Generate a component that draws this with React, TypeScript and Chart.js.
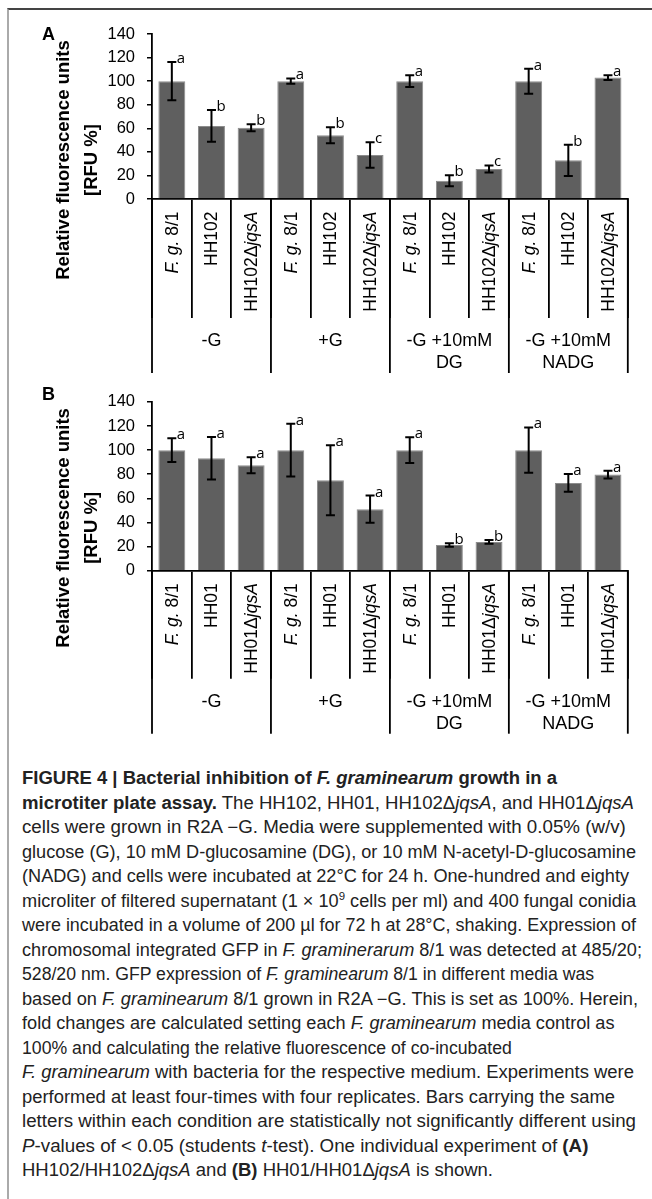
import React, { useEffect, useLayoutEffect, useRef } from 'react';
import { Chart, registerables } from 'chart.js';
Chart.register(...registerables);

// ---------- data ----------
const categoriesA = ['*F. g.* 8/1', 'HH102', 'HH102Δ*jqsA*', '*F. g.* 8/1', 'HH102', 'HH102Δ*jqsA*', '*F. g.* 8/1', 'HH102', 'HH102Δ*jqsA*', '*F. g.* 8/1', 'HH102', 'HH102Δ*jqsA*'];
const categoriesB = ['*F. g.* 8/1', 'HH01', 'HH01Δ*jqsA*', '*F. g.* 8/1', 'HH01', 'HH01Δ*jqsA*', '*F. g.* 8/1', 'HH01', 'HH01Δ*jqsA*', '*F. g.* 8/1', 'HH01', 'HH01Δ*jqsA*'];
const groupLabels = [['-G'], ['+G'], ['-G +10mM', 'DG'], ['-G +10mM', 'NADG']];
const valuesA = [100, 62, 60.5, 100, 54, 37.3, 100, 15.5, 25.5, 100, 32.8, 103];
const errorsA = [16.3, 13.5, 3, 2.3, 6.8, 10.8, 5, 4.7, 3, 10.6, 13.3, 2];
const lettersA = ['a', 'b', 'b', 'a', 'b', 'c', 'a', 'b', 'c', 'a', 'b', 'a'];
const valuesB = [100, 93.3, 87.4, 100, 75, 51, 100, 21.3, 23.9, 100, 72.8, 79.7];
const errorsB = [9.8, 17.6, 6.6, 21.8, 29, 11.3, 10.6, 1.5, 1.6, 18.8, 7.3, 3.3];
const lettersB = ['a', 'a', 'a', 'a', 'a', 'a', 'a', 'b', 'b', 'a', 'a', 'a'];
const yMin = 0;
const yMax = 140;
const yStep = 20;
const yTitle = ['Relative fluorescence units', '[RFU %]'];

const FONT = '"Liberation Sans", Arial, sans-serif';

function parseSegs(label: string) {
  const parts = label.split('*');
  return parts.map((t, i) => ({ t, italic: i % 2 === 1 })).filter(s => s.t.length > 0);
}

function makePlugin(cfg: any) {
  return {
    id: 'panelDecor',
    afterDraw(chart: any) {
      const { ctx, chartArea } = chart;
      const x = chart.scales.x;
      const y = chart.scales.y;
      const meta = chart.getDatasetMeta(0);
      ctx.save();
      // error bars + letters
      meta.data.forEach((bar: any, i: number) => {
        const v = cfg.values[i];
        const e = cfg.errors[i];
        const yt = y.getPixelForValue(v + e);
        const yb = y.getPixelForValue(v - e);
        const cx = bar.x;
        ctx.strokeStyle = '#000';
        ctx.lineWidth = 2;
        ctx.beginPath();
        ctx.moveTo(cx, yt); ctx.lineTo(cx, yb);
        ctx.moveTo(cx - 4.5, yt); ctx.lineTo(cx + 4.5, yt);
        ctx.moveTo(cx - 4.5, yb); ctx.lineTo(cx + 4.5, yb);
        ctx.stroke();
        ctx.fillStyle = '#000';
        ctx.font = '15px "Open Sans", sans-serif';
        ctx.textAlign = 'left';
        ctx.textBaseline = 'alphabetic';
        ctx.fillText(cfg.letters[i], cx + 5, yt + 1);
      });
      // rotated category labels
      const top = chartArea.bottom + 12.5;
      cfg.categories.forEach((lab: string, i: number) => {
        const cx = x.getPixelForValue(i);
        const segs = parseSegs(lab).map(s => {
          ctx.font = (s.italic ? 'italic ' : '') + '17.5px ' + FONT;
          return { ...s, w: ctx.measureText(s.t).width };
        });
        const total = segs.reduce((a, s) => a + s.w, 0);
        ctx.save();
        ctx.translate(cx, top);
        ctx.rotate(-Math.PI / 2);
        ctx.textAlign = 'left';
        ctx.textBaseline = 'middle';
        ctx.fillStyle = '#000';
        let px = -total;
        segs.forEach(s => {
          ctx.font = (s.italic ? 'italic ' : '') + '17.5px ' + FONT;
          ctx.fillText(s.t, px, 1);
          px += s.w;
        });
        ctx.restore();
      });
      // group separators & labels
      const half = (x.getPixelForValue(1) - x.getPixelForValue(0)) / 2;
      ctx.strokeStyle = '#000';
      ctx.lineWidth = 1.8;
      for (let g = 0; g <= groupLabels.length; g++) {
        const bx = g < groupLabels.length ? x.getPixelForValue(g * 3) - half : x.getPixelForValue(g * 3 - 1) + half;
        ctx.beginPath();
        ctx.moveTo(bx, chartArea.bottom);
        ctx.lineTo(bx, chartArea.bottom + cfg.innerLen + 55);
        ctx.stroke();
      }
      ctx.fillStyle = '#000';
      ctx.font = '18px ' + FONT;
      ctx.textAlign = 'center';
      ctx.textBaseline = 'middle';
      groupLabels.forEach((lines, g) => {
        const gx = x.getPixelForValue(g * 3 + 1);
        lines.forEach((ln, k) => {
          ctx.fillText(ln, gx, chartArea.bottom + cfg.innerLen + 23.5 + k * 21.5);
        });
      });
      // y axis title
      ctx.font = 'bold 18.5px ' + FONT;
      const cy = chartArea.top + 126;
      [64, 91.5].forEach((tx, k) => {
        ctx.save();
        ctx.translate(tx, cy);
        ctx.rotate(-Math.PI / 2);
        ctx.textAlign = 'center';
        ctx.textBaseline = 'middle';
        ctx.fillText(yTitle[k], 0, 0);
        ctx.restore();
      });
      // panel letter
      ctx.font = 'bold 18px ' + FONT;
      ctx.textAlign = 'left';
      ctx.textBaseline = 'alphabetic';
      ctx.fillText(cfg.panel, 42, cfg.panelY);
      ctx.restore();
    },
  };
}

function Panel(props: any) {
  const ref = useRef<HTMLCanvasElement>(null);
  useEffect(() => {
    const cfg = props.cfg;
    const chart = new Chart(ref.current as HTMLCanvasElement, {
      type: 'bar',
      data: {
        labels: cfg.categories,
        datasets: [{
          data: cfg.values,
          backgroundColor: '#5f5f5f',
          borderColor: '#8c8c8c',
          borderWidth: 1,
          barPercentage: 0.68,
          categoryPercentage: 1,
        }],
      },
      options: {
        responsive: false,
        animation: false,
        devicePixelRatio: 1,
        layout: { padding: { top: cfg.padTop, right: 24.2, bottom: 0, left: 0 } },
        plugins: { legend: { display: false }, tooltip: { enabled: false }, title: { display: false } },
        scales: {
          x: {
            offset: true,
            ticks: { display: false },
            grid: { offset: true, drawOnChartArea: false, drawTicks: true, tickLength: cfg.innerLen, color: '#000', lineWidth: 1.8 },
            border: { display: true, color: '#000', width: 1.8 },
            afterFit: (s: any) => { s.height = cfg.xHeight; },
          },
          y: {
            min: yMin,
            max: yMax,
            ticks: { stepSize: yStep, color: '#000', padding: 12, font: { family: FONT, size: 16.5 } },
            grid: { drawOnChartArea: false, drawTicks: true, tickLength: 5, color: '#000', lineWidth: 1.5 },
            border: { display: true, color: '#000', width: 1.8 },
            afterFit: (s: any) => { s.width = 152; },
          },
        },
      },
      plugins: [makePlugin(cfg)],
    });
    return () => chart.destroy();
  }, []);
  return (
    <canvas ref={ref} width={652} height={props.h}
      style={{ position: 'absolute', left: 0, top: props.top, width: 652, height: props.h }} />
  );
}

const cfgA = { categories: categoriesA, values: valuesA, errors: errorsA, letters: lettersA, innerLen: 119, padTop: 24, xHeight: 181, panel: 'A', panelY: 30 };
const cfgB = { categories: categoriesB, values: valuesB, errors: errorsB, letters: lettersB, innerLen: 108, padTop: 15, xHeight: 189.3, panel: 'B', panelY: 20 };

const I = (p: any) => <i>{p.children}</i>;
const B = (p: any) => <b>{p.children}</b>;

const captionLines: any[] = [
  <B>FIGURE 4 | Bacterial inhibition of <I>F. graminearum</I> growth in a</B>,
  <><B>microtiter plate assay.</B> The HH102, HH01, HH102Δ<I>jqsA</I>, and HH01Δ<I>jqsA</I></>,
  <>cells were grown in R2A −G. Media were supplemented with 0.05% (w/v)</>,
  <>glucose (G), 10 mM D-glucosamine (DG), or 10 mM N-acetyl-D-glucosamine</>,
  <>(NADG) and cells were incubated at 22°C for 24 h. One-hundred and eighty</>,
  <>microliter of filtered supernatant (1 × 10<sup style={{ fontSize: '11px', lineHeight: 0 }}>9</sup> cells per ml) and 400 fungal conidia</>,
  <>were incubated in a volume of 200 µl for 72 h at 28°C, shaking. Expression of</>,
  <>chromosomal integrated GFP in <I>F. graminerarum</I> 8/1 was detected at 485/20;</>,
  <>528/20 nm. GFP expression of <I>F. graminearum</I> 8/1 in different media was</>,
  <>based on <I>F. graminearum</I> 8/1 grown in R2A −G. This is set as 100%. Herein,</>,
  <>fold changes are calculated setting each <I>F. graminearum</I> media control as</>,
  <>100% and calculating the relative fluorescence of co-incubated</>,
  <><I>F. graminearum</I> with bacteria for the respective medium. Experiments were</>,
  <>performed at least four-times with four replicates. Bars carrying the same</>,
  <>letters within each condition are statistically not significantly different using</>,
  <><I>P</I>-values of &lt; 0.05 (students <I>t</I>-test). One individual experiment of <B>(A)</B></>,
  <>HH102/HH102Δ<I>jqsA</I> and <B>(B)</B> HH01/HH01Δ<I>jqsA</I> is shown.</>,
];
// approximate right end (page x) of each caption line in the reference
const captionLineEnds = [557, 634, 626, 636, 629, 636, 636, 642, 568, 638, 614.5, 497, 634, 615, 636, 592.5, 493];
const CAPTION_LEFT = 22;

function Caption() {
  const refs = useRef<(HTMLSpanElement | null)[]>([]);
  useLayoutEffect(() => {
    const widths = refs.current.map(el => (el ? el.getBoundingClientRect().width : 0));
    const ratios = widths.map((w, i) => (w > 0 ? (captionLineEnds[i] - CAPTION_LEFT) / w : 1));
    const sorted = [...ratios].sort((a, b) => a - b);
    const med = sorted[Math.floor(sorted.length / 2)];
    refs.current.forEach((el, i) => {
      if (!el) return;
      const r = Math.min(med * 1.03, Math.max(med * 0.97, ratios[i]));
      el.style.transform = `scaleX(${r})`;
    });
  }, []);
  return (
    <div style={{ position: 'absolute', left: CAPTION_LEFT, top: 766, fontFamily: FONT, fontSize: 17.5, lineHeight: '24.5px', color: '#222' }}>
      {captionLines.map((ln, i) => (
        <div key={i} style={{ whiteSpace: 'nowrap', height: 24.5 }}>
          <span ref={el => { refs.current[i] = el; }} style={{ display: 'inline-block', transformOrigin: '0 50%' }}>{ln}</span>
        </div>
      ))}
    </div>
  );
}

export default function App() {
  return (
    <div style={{ position: 'absolute', left: 0, top: 0, width: 652, height: 1199, background: '#fff', overflow: 'hidden' }}>
      <div style={{ position: 'absolute', left: 7, top: 8, width: 645, height: 1191, borderTop: '2px solid #444', borderLeft: '2px solid #aaa', boxSizing: 'border-box' }} />
      <Panel cfg={cfgA} top={10} h={370} />
      <Panel cfg={cfgB} top={380} h={380} />
      <Caption />
    </div>
  );
}
